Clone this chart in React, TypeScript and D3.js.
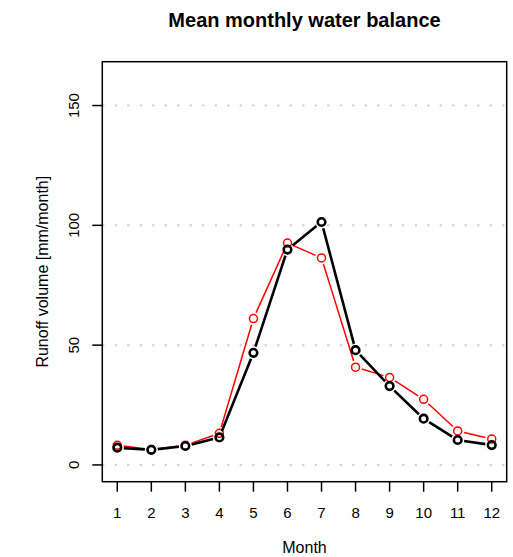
import React from "react";
import * as d3 from "d3";

const months = [1, 2, 3, 4, 5, 6, 7, 8, 9, 10, 11, 12];
const observed = [7.2, 6.3, 7.9, 11.5, 46.8, 89.9, 101.4, 47.9, 32.9, 19.3, 10.4, 8.3];
const simulated = [8.2, 6.4, 8.2, 13.2, 61.1, 92.6, 86.4, 40.8, 36.5, 27.4, 14.2, 10.8];
const yTicks = [0, 50, 100, 150];
const title = "Mean monthly water balance";
const xLabel = "Month";
const yLabel = "Runoff volume [mm/month]";

const W = 513;
const H = 557;
const left = 102.3;
const right = 506.7;
const top = 61.7;
const bottom = 481.7;

const x = d3.scaleLinear().domain([0.56, 12.44]).range([left, right]);
const y = d3.scaleLinear().domain([-7, 168.3]).range([bottom, top]);

function segments(vals: number[], gap: number) {
  const segs: { x1: number; y1: number; x2: number; y2: number }[] = [];
  for (let i = 0; i < vals.length - 1; i++) {
    const ax = x(months[i]), ay = y(vals[i]);
    const bx = x(months[i + 1]), by = y(vals[i + 1]);
    const dx = bx - ax, dy = by - ay;
    const len = Math.hypot(dx, dy);
    if (len <= 2 * gap) continue;
    const ux = dx / len, uy = dy / len;
    segs.push({ x1: ax + ux * gap, y1: ay + uy * gap, x2: bx - ux * gap, y2: by - uy * gap });
  }
  return segs;
}

function Series({ vals, color, lw, r }: { vals: number[]; color: string; lw: number; r: number }) {
  const segs = segments(vals, 6.5);
  return (
    <g>
      {segs.map((s, i) => (
        <line key={i} x1={s.x1} y1={s.y1} x2={s.x2} y2={s.y2} stroke={color} strokeWidth={lw} />
      ))}
      {vals.map((v, i) => (
        <circle key={i} cx={x(months[i])} cy={y(v)} r={r} fill="none" stroke={color} strokeWidth={lw} />
      ))}
    </g>
  );
}

export default function App() {
  const font = "Liberation Sans, Arial, Helvetica, sans-serif";
  return (
    <svg width={W} height={H} style={{ position: "absolute", left: 0, top: 0 }} fontFamily={font}>
      <rect width={W} height={H} fill="white" />
      {yTicks.map((t) => (
        <line key={t} x1={left + 1} x2={right} y1={y(t)} y2={y(t)} stroke="#d3d3d3" strokeWidth={2.5}
          strokeDasharray="0 12.5" strokeLinecap="round" />
      ))}
      <Series vals={simulated} color="#ff0000" lw={1.5} r={4} />
      <Series vals={observed} color="#000000" lw={2.6} r={3.8} />
      <rect x={left} y={top} width={right - left} height={bottom - top} fill="none" stroke="black" strokeWidth={1.5} />
      {yTicks.map((t) => (
        <g key={t}>
          <line x1={left - 10} x2={left} y1={y(t)} y2={y(t)} stroke="black" strokeWidth={1.5} />
          <text transform={`translate(${79},${y(t)}) rotate(-90)`} textAnchor="middle" fontSize={15}>{t}</text>
        </g>
      ))}
      {months.map((m) => (
        <g key={m}>
          <line x1={x(m)} x2={x(m)} y1={bottom} y2={bottom + 10} stroke="black" strokeWidth={1.5} />
          <text x={x(m)} y={517.5} textAnchor="middle" fontSize={15}>{m}</text>
        </g>
      ))}
      <text x={(left + right) / 2} y={552.5} textAnchor="middle" fontSize={16}>{xLabel}</text>
      <text transform={`translate(${47.5},${(top + bottom) / 2}) rotate(-90)`} textAnchor="middle" fontSize={16}>{yLabel}</text>
      <text x={(left + right) / 2} y={27} textAnchor="middle" fontSize={20} fontWeight="bold">{title}</text>
    </svg>
  );
}
